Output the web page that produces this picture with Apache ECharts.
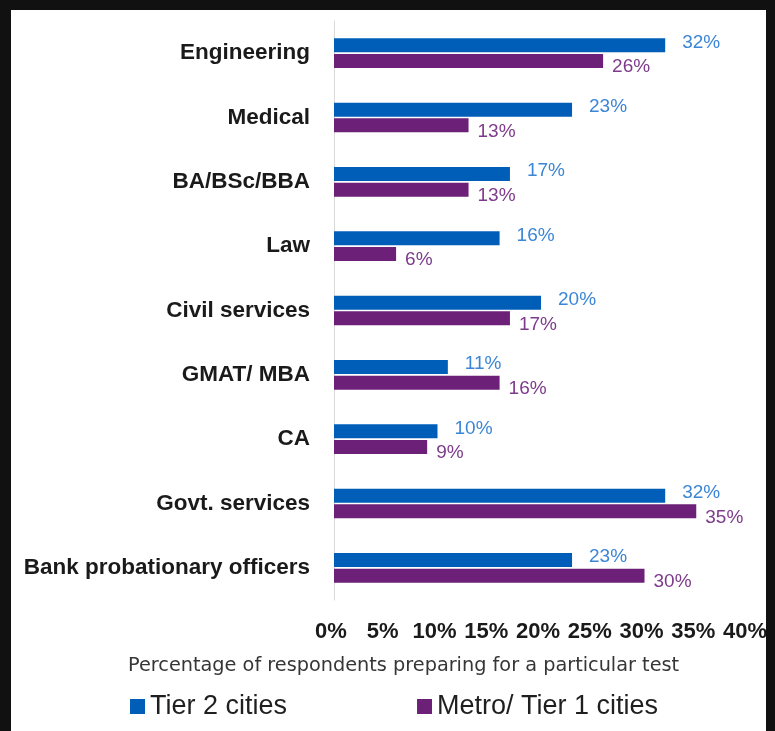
<!DOCTYPE html>
<html>
  <head>
    <meta charset="utf-8" />
    <title>Test preparation by city tier</title>
    <script src="https://cdn.jsdelivr.net/npm/echarts@6.0.0/dist/echarts.min.js"></script>
    <style>
      body { margin: 0; background: #111; width: 775px; height: 731px; overflow: hidden; }
      #main { position: absolute; left: 11px; top: 10px; width: 755px; height: 721px; background: #fff; }
    </style>
  </head>

  <body>
    <div id="main"></div>

    <script>
      var categories = [
        "Engineering",
        "Medical",
        "BA/BSc/BBA",
        "Law",
        "Civil services",
        "GMAT/ MBA",
        "CA",
        "Govt. services",
        "Bank probationary officers",
      ];
      var tier2 = [32, 23, 17, 16, 20, 11, 10, 32, 23];
      var metro = [26, 13, 13, 6, 17, 16, 9, 35, 30];
      var xTicks = [0, 5, 10, 15, 20, 25, 30, 35, 40];

      var font = "Liberation Sans";

      var option = {
        animation: false,
        title: {
          text: "Percentage of respondents preparing for a particular test",
          left: 112,
          top: 641,
          textStyle: { fontFamily: "DejaVu Sans", fontSize: 19.3, fontWeight: "normal", color: "#363636" },
        },
        legend: {
          left: 114,
          top: 678,
          icon: "rect",
          itemWidth: 15,
          itemHeight: 15,
          itemGap: 130,
          textStyle: { fontFamily: font, fontSize: 27, color: "#1f1f1f" },
          data: ["Tier 2 cities", "Metro/ Tier 1 cities"],
        },
        grid: { left: 323, right: 18, top: 11, bottom: 131, outerBoundsMode: "none" },
        xAxis: {
          type: "value",
          min: xTicks[0],
          max: xTicks[xTicks.length - 1],
          interval: xTicks[1] - xTicks[0],
          splitLine: { show: false },
          axisLine: { show: false },
          axisTick: { show: false },
          axisLabel: {
            margin: 21,
            padding: [0, 6, 0, 0],
            formatter: "{value}%",
            fontFamily: font,
            fontSize: 22,
            fontWeight: "bold",
            color: "#1a1a1a",
          },
        },
        yAxis: {
          type: "category",
          inverse: true,
          data: categories,
          axisTick: { show: false },
          axisLine: { show: true, lineStyle: { color: "#d9d9d9", width: 1 } },
          axisLabel: {
            margin: 24,
            fontFamily: font,
            fontSize: 22.5,
            fontWeight: "bold",
            color: "#1a1a1a",
          },
        },
        series: [
          {
            name: "Tier 2 cities",
            type: "bar",
            data: tier2,
            barWidth: 14,
            barGap: "12%",
            itemStyle: { color: "#005eb8" },
            label: {
              show: true,
              position: "right",
              distance: 17,
              offset: [0, -3],
              formatter: "{c}%",
              fontFamily: font,
              fontSize: 19,
              color: "#3b86d6",
            },
          },
          {
            name: "Metro/ Tier 1 cities",
            type: "bar",
            data: metro,
            barWidth: 14,
            itemStyle: { color: "#6d2077" },
            label: {
              show: true,
              position: "right",
              distance: 9,
              offset: [0, 6],
              formatter: "{c}%",
              fontFamily: font,
              fontSize: 19,
              color: "#7d3b8b",
            },
          },
        ],
      };

      var myChart = echarts.init(document.getElementById("main"));
      myChart.setOption(option);
    </script>
  </body>
</html>
